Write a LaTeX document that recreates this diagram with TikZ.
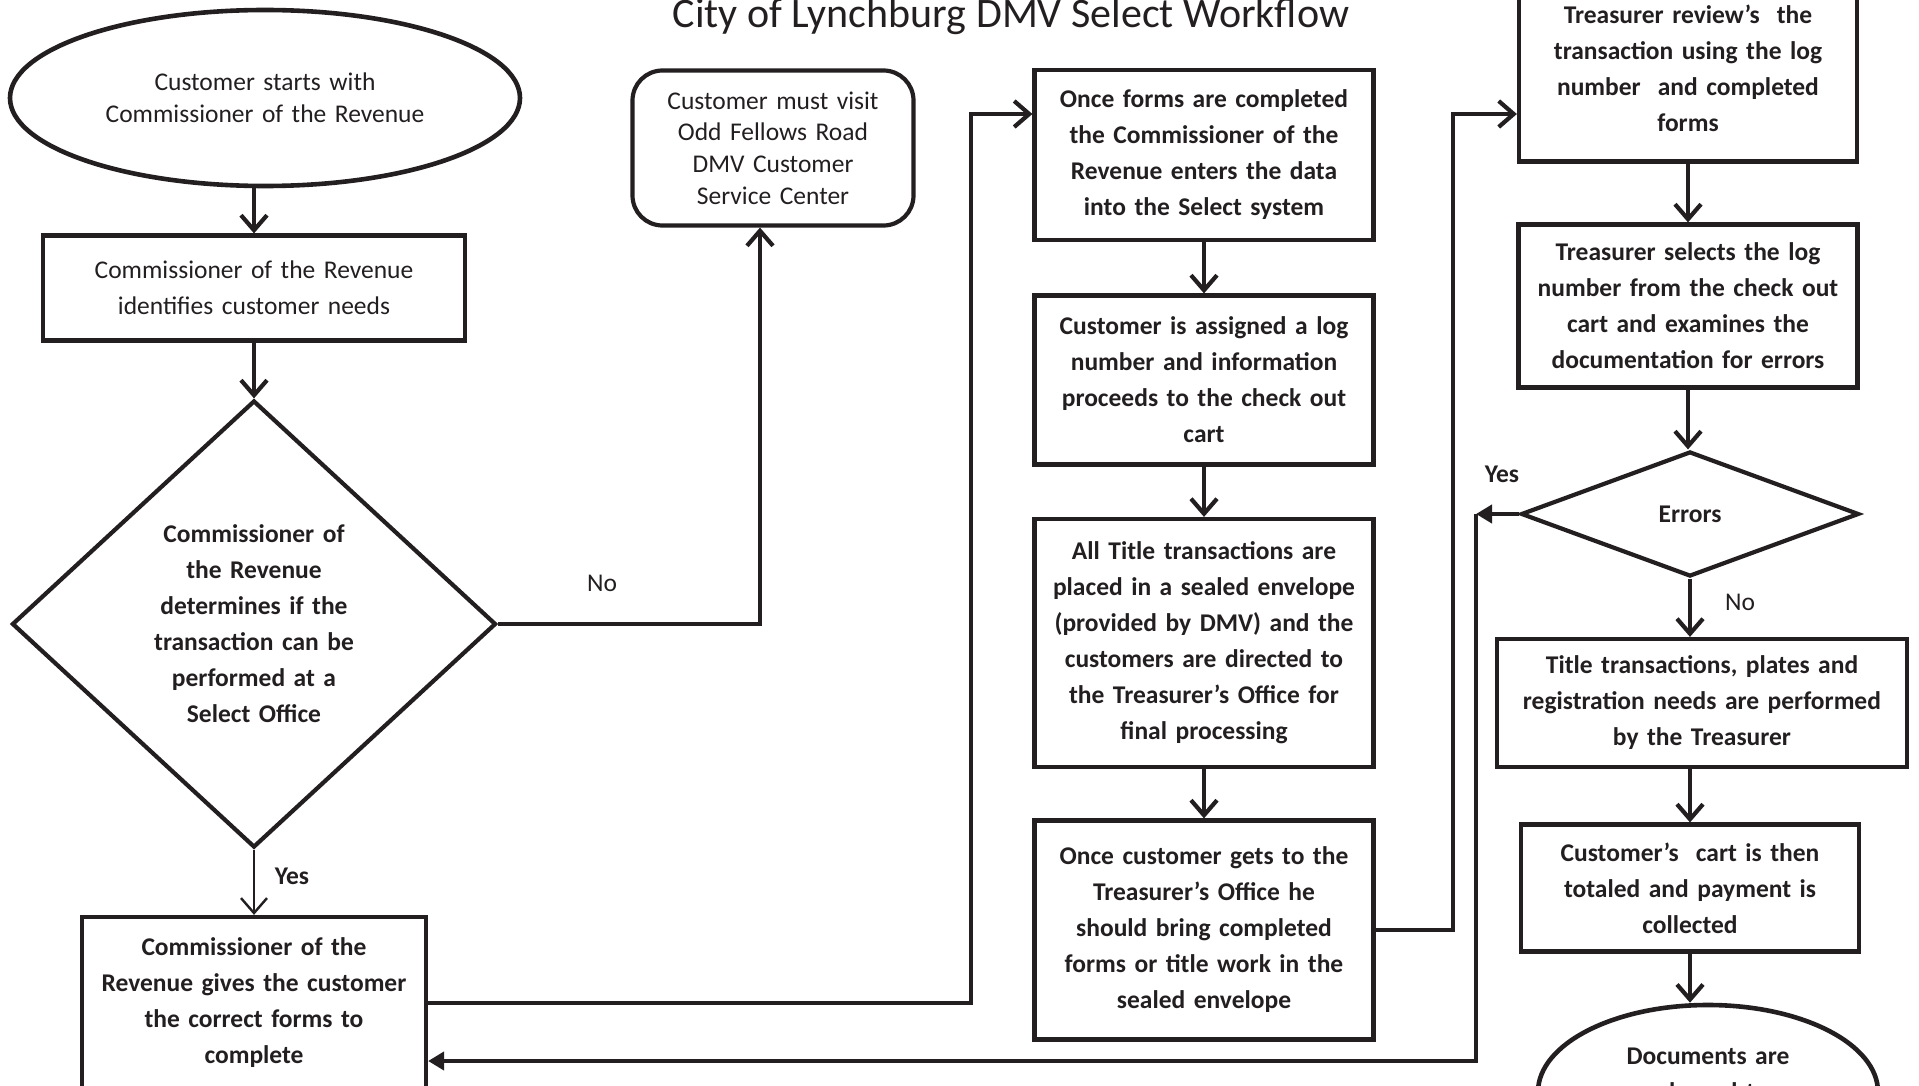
\documentclass[tikz,border=0pt]{standalone}
\usepackage{fontspec}
\setmainfont{Carlito}
\usetikzlibrary{shapes.geometric,arrows.meta}

\definecolor{ink}{HTML}{231F20}
\newcommand{\flowfont}{\fontsize{12.75pt}{18pt}\selectfont}
\newcommand{\tightfont}{\fontsize{12.75pt}{15.8pt}\selectfont}

\begin{document}
\begin{tikzpicture}[x=0.5pt, y=-0.5pt, line width=2.1pt, color=ink,
	flowbox/.style={rectangle, draw, inner sep=0pt, align=center, font=\flowfont\bfseries},
	flowoval/.style={ellipse, draw, line width=2.3pt, inner sep=0pt, align=center},
	arr/.style={-{Straight Barb[length=7.5pt, width=13pt]}},
	arrf/.style={-{Triangle[length=8pt, width=9pt]}},
	lbl/.style={font=\flowfont}]
	\useasboundingbox (0,0) rectangle (1919,1086);
	\clip (0,0) rectangle (1919,1086);

	\node (title) [anchor=base, font=\fontsize{21pt}{25pt}\selectfont] at (1011,28) {City of Lynchburg DMV Select Workflow};

	\node (start) [flowoval, minimum width=255pt, minimum height=88pt, text width=170pt, font=\tightfont] at (265,98) {Customer starts with\\Commissioner of the Revenue};
	\node (ident) [flowbox, font=\flowfont, minimum width=211pt, minimum height=52.5pt, text width=200pt] at (254,288) {Commissioner of the Revenue\\identifies customer needs};
	\node (check) [diamond, draw, inner sep=0pt, aspect=1.08, align=center, font=\flowfont\bfseries, text width=110pt, minimum width=242pt, minimum height=223.5pt] at (254,624) {Commissioner of\\the Revenue\\determines if the\\transaction can be\\performed at a\\Select Office};
	\node (forms) [flowbox, minimum width=172pt, minimum height=86pt, text width=165pt] at (254,1003) {Commissioner of the\\Revenue gives the customer\\the correct forms to\\complete};
	\node (visit) [flowbox, rounded corners=15pt, font=\tightfont, minimum width=140.5pt, minimum height=77.5pt, text width=130pt] at (773,148) {Customer must visit\\Odd Fellows Road\\DMV Customer\\Service Center};

	\node (enter) [flowbox, minimum width=169.5pt, minimum height=85pt, text width=162pt] at (1204,155) {Once forms are completed\\the Commissioner of the\\Revenue enters the data\\into the Select system};
	\node (assign) [flowbox, minimum width=169.5pt, minimum height=84.5pt, text width=162pt] at (1204,380) {Customer is assigned a log\\number and information\\proceeds to the check out\\cart};
	\node (seal) [flowbox, minimum width=169.5pt, minimum height=124pt, text width=162pt] at (1204,643) {All Title transactions are\\placed in a sealed envelope\\(provided by DMV) and the\\customers are directed to\\the Treasurer’s Office for\\final processing};
	\node (bring) [flowbox, minimum width=169.5pt, minimum height=109.5pt, text width=162pt] at (1204,930) {Once customer gets to the\\Treasurer’s Office he\\should bring completed\\forms or title work in the\\sealed envelope};

	\node (review) [flowbox, minimum width=169pt, minimum height=93.5pt, text width=162pt] at (1688,68) {Treasurer review’s \ the\\transaction using the log\\number \ and completed\\forms};
	\node (select) [flowbox, minimum width=169.5pt, minimum height=81.5pt, text width=162pt] at (1688,306) {Treasurer selects the log\\number from the check out\\cart and examines the\\documentation for errors};
	\node (errors) [diamond, draw, inner sep=0pt, aspect=2.7, font=\flowfont\bfseries, minimum width=169pt, minimum height=62.5pt] at (1690,514) {Errors};
	\node (perform) [flowbox, minimum width=205pt, minimum height=64pt, text width=198pt] at (1702,703) {Title transactions, plates and\\registration needs are performed\\by the Treasurer};
	\node (cart) [flowbox, minimum width=169pt, minimum height=63.5pt, text width=162pt] at (1690,888) {Customer’s \ cart is then\\totaled and payment is\\collected};
	\node (release) [flowoval, font=\flowfont\bfseries, minimum width=170pt, minimum height=87pt, text width=110pt] at (1708,1092) {Documents are\\released to\\\phantom{x}};

	\draw[arr] (start.south -| ident.north) -- (ident.north);
	\draw[arr] (ident) -- (check);
	\draw[arr, line width=1.2pt] (check) -- (forms);
	\node (yeslbl) [lbl, font=\flowfont\bfseries] at (292,876) {Yes};

	\coordinate (nobend) at (760,624);
	\draw[arr] (check.east) -- (nobend) -- (nobend |- visit.south);
	\node (nolbl) [lbl] at (602,583) {No};

	\coordinate (formsbend) at (971,114);
	\draw[arr] (forms.east) -| (formsbend) -- (formsbend -| enter.west);
	\draw[arr] (enter) -- (assign);
	\draw[arr] (assign) -- (seal);
	\draw[arr] (seal) -- (bring);

	\coordinate (bringbend) at (1453,114);
	\draw[arr] (bring.east) -| (bringbend) -- (bringbend -| review.west);
	\draw[arr] (review) -- (select);
	\draw[arr] (select.south) -- (select.south |- errors.north);
	\draw[arr] (errors.south) -- (errors.south |- perform.north);
	\node (errno) [lbl] at (1740,602) {No};
	\draw[arr] (cart.north |- perform.south) -- (cart.north);
	\draw[arr] (cart.south) -- (cart.south |- release.north);

	\coordinate (yesturn) at (1476,514);
	\coordinate (yesdown) at (1476,1061);
	\draw[arrf] (errors.west) -- (yesturn);
	\draw[arrf] (yesturn) -- (yesdown) -- (yesdown -| forms.east);
	\node (erryes) [lbl, font=\flowfont\bfseries] at (1502,474) {Yes};

\end{tikzpicture}
\end{document}
